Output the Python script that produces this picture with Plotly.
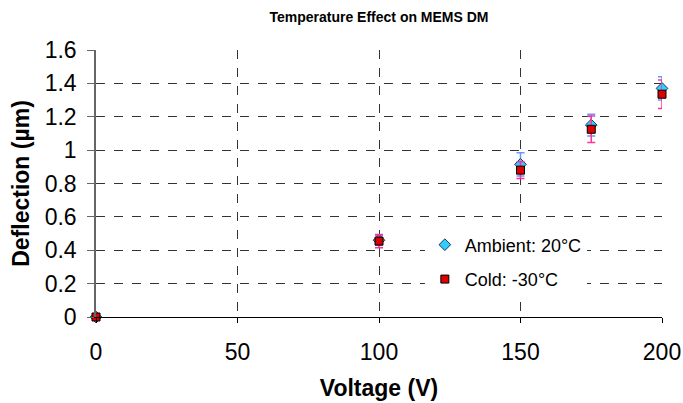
import plotly.graph_objects as go

voltage = [0, 100, 150, 175, 200]
ambient = [0.0, 0.46, 0.915, 1.15, 1.37]
ambient_err = [0.0, 0.03, 0.07, 0.065, 0.07]
cold = [0.0, 0.455, 0.88, 1.125, 1.335]
cold_err = [0.0, 0.04, 0.05, 0.08, 0.085]

x_ticks = [0, 50, 100, 150, 200]
y_ticks = [0, 0.2, 0.4, 0.6, 0.8, 1, 1.2, 1.4, 1.6]
y_labels = ["0", "0.2", "0.4", "0.6", "0.8", "1", "1.2", "1.4", "1.6"]

FONT = "Liberation Sans, Arial, sans-serif"

fig = go.Figure()
fig.add_trace(go.Scatter(
    x=voltage, y=ambient, mode="markers", name="Ambient: 20°C",
    legendgroup="a", cliponaxis=False,
    marker=dict(symbol="diamond", size=9, color="#33CCFF",
                line=dict(color="#1a3a5a", width=1)),
    error_y=dict(type="data", array=ambient_err, visible=True,
                 color="#6699FF", thickness=1.5, width=4),
))
fig.add_trace(go.Scatter(
    x=voltage, y=cold, mode="markers", name="Cold: -30°C",
    legendgroup="c", cliponaxis=False,
    marker=dict(symbol="square", size=8, color="#DD0000",
                line=dict(color="#000000", width=1)),
    error_y=dict(type="data", array=cold_err, visible=True,
                 color="#FF3399", thickness=1.5, width=4),
))

fig.update_layout(
    width=683, height=403,
    margin=dict(l=96, r=21, t=50, b=86),
    paper_bgcolor="white", plot_bgcolor="white",
    font=dict(family=FONT, color="black"),
    title=dict(text="<b>Temperature Effect on MEMS DM</b>",
               font=dict(size=14, family=FONT),
               x=0.5, xref="paper", xanchor="center",
               y=1 - 17 / 403, yref="container", yanchor="middle"),
    legend=dict(x=0.581, y=0.339, xanchor="left", yanchor="top",
                bgcolor="white", borderwidth=0,
                font=dict(size=18, family=FONT),
                tracegroupgap=8, itemsizing="trace"),
    showlegend=True,
)
fig.update_xaxes(
    range=[0, 200], tickvals=x_ticks, ticktext=[str(v) for v in x_ticks],
    tickfont=dict(size=23, family=FONT),
    ticklabelstandoff=9, automargin=False,
    showgrid=True, gridcolor="#333333", griddash="dash", gridwidth=1,
    showline=True, linecolor="black", linewidth=1,
    ticks="outside", ticklen=5, tickcolor="black",
    zeroline=False,
    title=dict(text="<b>Voltage (V)</b>", font=dict(size=23, family=FONT), standoff=16),
)
fig.update_yaxes(
    range=[0, 1.6], tickvals=y_ticks, ticktext=y_labels,
    tickfont=dict(size=23, family=FONT),
    ticklabelstandoff=6, automargin=False,
    showgrid=True, gridcolor="#333333", griddash="dash", gridwidth=1,
    showline=True, linecolor="#666666", linewidth=1.5,
    ticks="outside", ticklen=7, tickcolor="#666666",
    zeroline=False,
    title=dict(text="<b>Deflection (µm)</b>", font=dict(size=23, family=FONT), standoff=9),
)

fig.write_html("out.html")
